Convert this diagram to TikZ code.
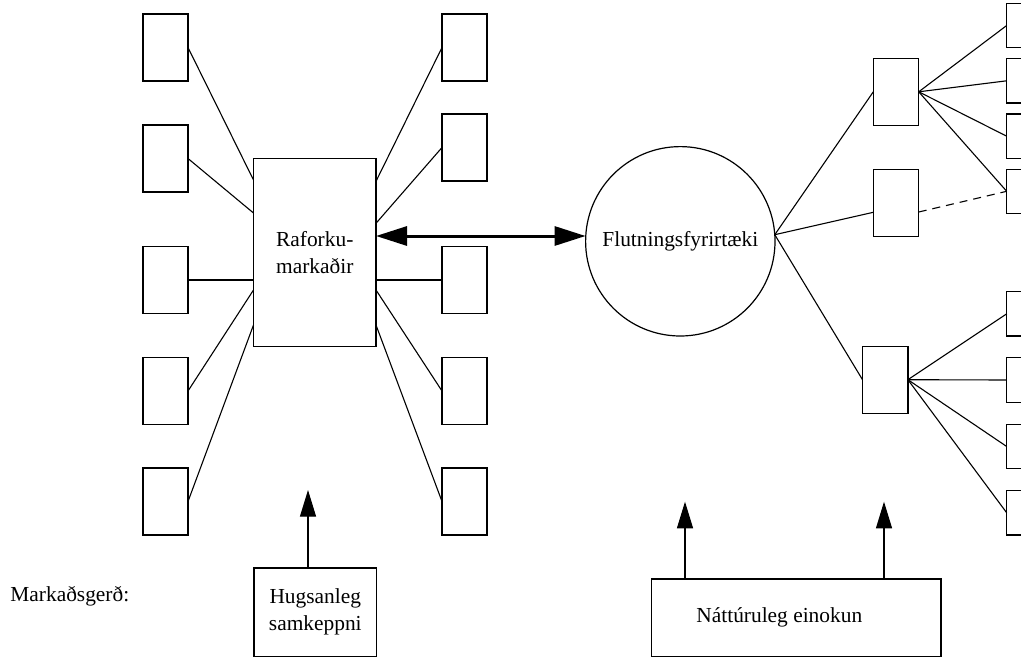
\documentclass[tikz,border=0pt]{standalone}
\usepackage{fontspec}
\setmainfont{Liberation Serif}
\usetikzlibrary{arrows.meta,calc}

\tikzset{
  txt/.style={font=\fontsize{10.7pt}{13.5pt}\selectfont},
  unit/.style={draw, line width=0.6pt, inner sep=0pt, outer sep=0pt,
               minimum width=22.5pt, minimum height=33.5pt},
  leaf/.style={draw, line width=0.6pt, inner sep=0pt, outer sep=0pt,
               minimum width=22.5pt, minimum height=22.2pt},
  bigbox/.style={draw, line width=0.6pt, inner sep=0pt, outer sep=0pt, txt, align=center},
  link/.style={line width=0.55pt},
  dlink/.style={line width=0.55pt, dash pattern=on 4pt off 3pt},
  pusharrow/.style={line width=0.6pt, -{Triangle[length=13.3pt,width=8pt]}},
  tradearrow/.style={line width=1.5pt,
    {Triangle[length=15.5pt,width=9.5pt]}-{Triangle[length=15.5pt,width=9.5pt]}}
}

\begin{document}
\begin{tikzpicture}[x=0.5pt, y=-0.5pt]
\useasboundingbox (0,0) rectangle (1021,658);
\clip (0,0) rectangle (1021,658);

% power market and its participants
\node[bigbox, minimum width=61.25pt, minimum height=94.2pt] (mk) at (314.75,252.5)
  {Raforku-\\markaðir};

\node[unit] (L1) at (165.5,47.5) {};
\node[unit] (L2) at (165.5,158.5) {};
\node[unit] (L3) at (165.5,280) {};
\node[unit] (L4) at (165.5,391) {};
\node[unit] (L5) at (165.5,501.5) {};

\node[unit] (Q1) at (464.5,47.5) {};
\node[unit] (Q2) at (464.5,147.5) {};
\node[unit] (Q3) at (464.5,280) {};
\node[unit] (Q4) at (464.5,391) {};
\node[unit] (Q5) at (464.5,501.5) {};

\draw[link] (L1.east) -- ($(mk.north west)+(0,21.7)$);
\draw[link] (L2.east) -- ($(mk.north west)+(0,54.7)$);
\draw[link] (L3.east) -- ($(mk.north west)+(0,121.7)$);
\draw[link] (L4.east) -- ($(mk.north west)+(0,131.7)$);
\draw[link] (L5.east) -- ($(mk.north west)+(0,166.7)$);

\draw[link] (Q1.west) -- ($(mk.north east)+(0,23)$);
\draw[link] (Q2.west) -- ($(mk.north east)+(0,65)$);
\draw[link] (Q3.west) -- ($(mk.north east)+(0,121.7)$);
\draw[link] (Q4.west) -- ($(mk.north east)+(0,131.7)$);
\draw[link] (Q5.west) -- ($(mk.north east)+(0,166.7)$);

% transmission company
\node[draw, circle, line width=0.6pt, inner sep=0pt, outer sep=0pt, txt,
      minimum size=94.7pt] (fl) at (680.3,241.3) {Flutningsfyrirtæki\hspace{6pt}};

\coordinate (tradeL) at ($(mk.north east)+(0,77.7)$);
\draw[tradearrow] (tradeL) -- (tradeL -| fl.west);

% distribution companies and their customers
\node[unit, minimum width=22.7pt] (A) at (896,91.8) {};
\node[unit, minimum width=22.7pt] (B) at (896,202.8) {};
\node[unit, minimum width=22.7pt] (C) at (885.2,379.7) {};

\node[leaf] (R1) at (1029.2,25.5) {};
\node[leaf] (R2) at (1029.2,80.8) {};
\node[leaf] (R3) at (1029.2,136.2) {};
\node[leaf] (R4) at (1029.2,191.3) {};
\node[leaf] (R5) at (1029.2,313.8) {};
\node[leaf] (R6) at (1029.2,380) {};
\node[leaf] (R7) at (1029.2,446.5) {};
\node[leaf] (R8) at (1029.2,512.8) {};

\draw[link] (fl.4) -- (A.west);
\draw[link] (fl.4) -- ($(B.north west)+(0,43)$);
\draw[link] (fl.4) -- (C.west);

\draw[link] (A.east) -- (R1.west);
\draw[link] (A.east) -- (R2.west);
\draw[link] (A.east) -- (R3.west);
\draw[link] (A.east) -- (R4.west);
\draw[dlink] ($(B.north east)+(0,42.7)$) -- (R4.west);

\draw[link] (C.east) -- (R5.west);
\draw[link] (C.east) -- (R6.west);
\draw[link] (C.east) -- (R7.west);
\draw[link] (C.east) -- (R8.west);

% market structure
\node[txt, inner sep=0pt, anchor=base west] (mg) at (10,601) {Markaðsgerð:};

\node[bigbox, minimum width=61.35pt, minimum height=44.35pt] (hs) at (315.3,612.3)
  {Hugsanleg\hspace{5pt}\\samkeppni\hspace{5pt}};
\coordinate (hsTip) at (308,490);
\draw[pusharrow] (hsTip |- hs.north) -- (hsTip);

\node[bigbox, minimum width=144.65pt, minimum height=38.85pt] (nat) at (796.3,617.8)
  {Náttúruleg einokun\hspace{17pt}};
\coordinate (natTipA) at (685,501.7);
\coordinate (natTipB) at (884,501.7);
\draw[pusharrow] (natTipA |- nat.north) -- (natTipA);
\draw[pusharrow] (natTipB |- nat.north) -- (natTipB);
\end{tikzpicture}
\end{document}
